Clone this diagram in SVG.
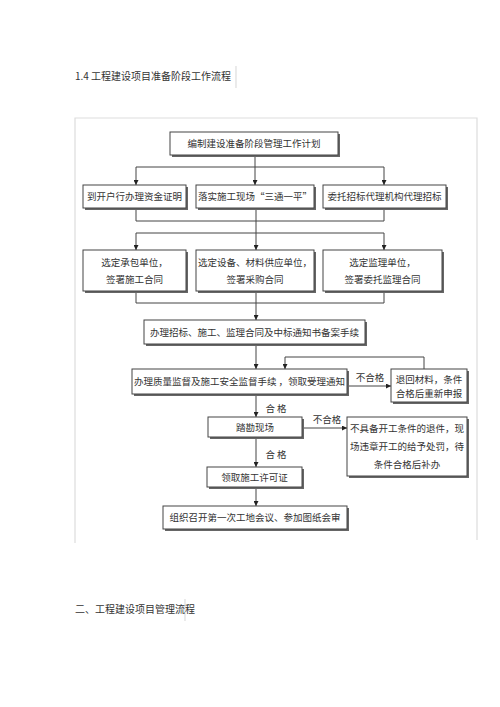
<svg xmlns="http://www.w3.org/2000/svg" width="500" height="707" viewBox="0 0 500 707">
<style>
text{font-family:"Noto Sans CJK SC","Liberation Serif",serif;fill:#333;font-size:9.5px}
.c{text-anchor:middle}
.box rect.b{fill:#fff;stroke:#444;stroke-width:1}
.box rect.s{fill:#666}
.ln{fill:none;stroke:#444;stroke-width:1}
.fr{fill:none;stroke:#ddd;stroke-width:1.2}
</style>
<defs>
<marker id="a" viewBox="0 0 6 6" refX="6" refY="3" markerWidth="5" markerHeight="5" orient="auto" markerUnits="userSpaceOnUse"><path d="M0,0L6,3L0,6z" fill="#222"/></marker>
</defs>
<rect width="500" height="707" fill="#fff"/>
<g id="heading1">
<line class="fr" x1="236" y1="66" x2="236" y2="88"/>
<text x="75" y="80" style="font-size:10px">1.4 工程建设项目准备阶段工作流程</text>
</g>
<g id="frame">
<path class="fr" d="M75,543V118H477V540"/>
</g>
<g id="connectors">
<line class="ln" x1="255" y1="156" x2="255" y2="167"/>
<path class="ln" d="M136,167H384"/>
<line class="ln" x1="136" y1="167" x2="136" y2="185" marker-end="url(#a)"/>
<line class="ln" x1="255" y1="167" x2="255" y2="185" marker-end="url(#a)"/>
<line class="ln" x1="384" y1="167" x2="384" y2="185" marker-end="url(#a)"/>
<path class="ln" d="M136,210V221H384V210M256,210V233"/>
<path class="ln" d="M136,233H384"/>
<line class="ln" x1="136" y1="233" x2="136" y2="250" marker-end="url(#a)"/>
<line class="ln" x1="256" y1="233" x2="256" y2="250" marker-end="url(#a)"/>
<line class="ln" x1="384" y1="233" x2="384" y2="250" marker-end="url(#a)"/>
<path class="ln" d="M136,293V303H384V293M256,293V303"/>
<line class="ln" x1="256" y1="303" x2="256" y2="320" marker-end="url(#a)"/>
<line class="ln" x1="256" y1="346" x2="256" y2="369" marker-end="url(#a)"/>
<path class="ln" d="M424,369V357H285V369" marker-end="url(#a)"/>
<line class="ln" x1="349" y1="386" x2="391" y2="386" marker-end="url(#a)"/>
<line class="ln" x1="256" y1="396" x2="256" y2="417" marker-end="url(#a)"/>
<line class="ln" x1="304" y1="428" x2="347" y2="428" marker-end="url(#a)"/>
<line class="ln" x1="256" y1="439" x2="256" y2="467" marker-end="url(#a)"/>
<line class="ln" x1="256" y1="489" x2="256" y2="506" marker-end="url(#a)"/>
<text x="370" y="381" class="c">不合格</text>
<text x="276" y="412" class="c">合 格</text>
<text x="327" y="423" class="c">不合格</text>
<text x="276" y="458" class="c">合 格</text>
</g>
<g id="n1" class="box"><rect class="s" x="172" y="134" width="168" height="23"/><rect class="b" x="170" y="132" width="168" height="23"/><text x="254" y="147" class="c">编制建设准备阶段管理工作计划</text></g>
<g id="n2" class="box"><rect class="s" x="85" y="187" width="103" height="23"/><rect class="b" x="83" y="185" width="103" height="23"/><text x="134.5" y="200" class="c">到开户行办理资金证明</text></g>
<g id="n3" class="box"><rect class="s" x="198" y="187" width="118" height="23"/><rect class="b" x="196" y="185" width="118" height="23"/><text x="255" y="200" class="c">落实施工现场“三通一平”</text></g>
<g id="n4" class="box"><rect class="s" x="325" y="187" width="123" height="23"/><rect class="b" x="323" y="185" width="123" height="23"/><text x="384.5" y="200" class="c">委托招标代理机构代理招标</text></g>
<g id="n5" class="box"><rect class="s" x="85" y="252" width="103" height="41"/><rect class="b" x="83" y="250" width="103" height="41"/><text x="134.5" y="266" class="c">选定承包单位，</text><text x="134.5" y="283" class="c">签署施工合同</text></g>
<g id="n6" class="box"><rect class="s" x="198" y="252" width="118" height="41"/><rect class="b" x="196" y="250" width="118" height="41"/><text x="255" y="266" class="c">选定设备、材料供应单位，</text><text x="255" y="283" class="c">签署采购合同</text></g>
<g id="n7" class="box"><rect class="s" x="325" y="252" width="119" height="41"/><rect class="b" x="323" y="250" width="119" height="41"/><text x="382.5" y="266" class="c">选定监理单位，</text><text x="382.5" y="283" class="c">签署委托监理合同</text></g>
<g id="n8" class="box"><rect class="s" x="146" y="322" width="221" height="24"/><rect class="b" x="144" y="320" width="221" height="24"/><text x="254.5" y="335.5" class="c">办理招标、施工、监理合同及中标通知书备案手续</text></g>
<g id="n9" class="box"><rect class="s" x="134" y="371" width="215" height="25"/><rect class="b" x="132" y="369" width="215" height="25"/><text x="239.5" y="385" class="c">办理质量监督及施工安全监督手续 ，领取受理通知</text></g>
<g id="n10" class="box"><rect class="s" x="393" y="371" width="76" height="33"/><rect class="b" x="391" y="369" width="76" height="33"/><text x="429" y="383" class="c">退回材料，条件</text><text x="429" y="397" class="c">合格后重新申报</text></g>
<g id="n11" class="box"><rect class="s" x="210" y="419" width="94" height="20"/><rect class="b" x="208" y="417" width="94" height="20"/><text x="255" y="430.5" class="c">踏勘现场</text></g>
<g id="n12" class="box"><rect class="s" x="349" y="419" width="120" height="59"/><rect class="b" x="347" y="417" width="120" height="59"/><text x="407" y="432" class="c">不具备开工条件的退件，现</text><text x="407" y="450" class="c">场违章开工的给予处罚，待</text><text x="407" y="468" class="c">条件合格后补办</text></g>
<g id="n13" class="box"><rect class="s" x="209" y="469" width="95" height="20"/><rect class="b" x="207" y="467" width="95" height="20"/><text x="254.5" y="480.5" class="c">领取施工许可证</text></g>
<g id="n14" class="box"><rect class="s" x="165" y="508" width="184" height="23"/><rect class="b" x="163" y="506" width="184" height="23"/><text x="255" y="521" class="c">组织召开第一次工地会议、参加图纸会审</text></g>
<g id="heading2">
<line class="fr" x1="185" y1="599" x2="185" y2="621"/>
<text x="75" y="613" style="font-size:10px">二、工程建设项目管理流程</text>
</g>
</svg>
